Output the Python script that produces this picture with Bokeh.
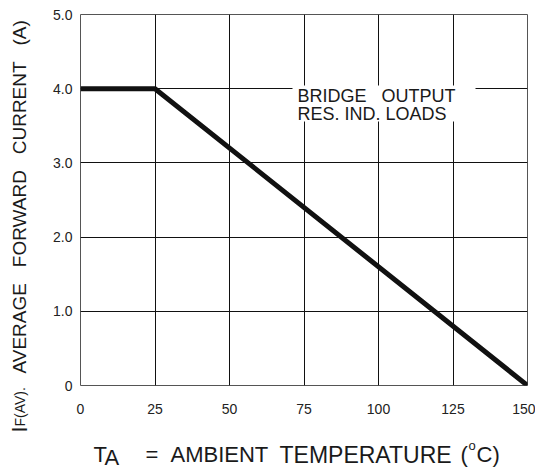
from bokeh.plotting import figure
from bokeh.layouts import row, column
from bokeh.models import Range1d, FixedTicker, Label, BoxAnnotation
from bokeh.embed import file_html
from bokeh.resources import INLINE
import math

# data
temps = [0, 25, 150]
current = [4.0, 4.0, 0.0]
x_ticks = [0, 25, 50, 75, 100, 125, 150]
y_ticks = [0, 1, 2, 3, 4, 5]
y_tick_labels = {0: "0", 1: "1.0", 2: "2.0", 3: "3.0", 4: "4.0", 5: "5.0"}

FONT = "Liberation Sans"
NB = "\u00a0"
TXT = "#1a1a1a"

YW = 40      # width of the y-title strip
PH = 420     # main figure height
XH = 50      # x-title strip height

p = figure(width=495, height=PH, output_backend="svg", toolbar_location=None,
           x_range=Range1d(0, 150), y_range=Range1d(0, 5),
           min_border_left=40, min_border_right=8, min_border_top=14, min_border_bottom=35)
p.background_fill_color = "white"
p.border_fill_color = "white"
p.outline_line_color = "#555555"
p.outline_line_width = 1

for ax in (p.xaxis[0], p.yaxis[0]):
    ax.axis_line_color = None
    ax.major_tick_line_color = None
    ax.minor_tick_line_color = None
    ax.major_tick_out = 0
    ax.major_tick_in = 0
    ax.minor_tick_out = 0
    ax.major_label_text_font = FONT
    ax.major_label_text_font_size = "14px"
    ax.major_label_text_color = "#222222"

p.xaxis.ticker = FixedTicker(ticks=x_ticks)
p.yaxis.ticker = FixedTicker(ticks=y_ticks)
p.yaxis.major_label_overrides = y_tick_labels
p.xaxis.major_label_standoff = 18
p.yaxis.major_label_standoff = 8

p.xgrid.ticker = FixedTicker(ticks=x_ticks)
p.ygrid.ticker = FixedTicker(ticks=y_ticks)
for g in (p.xgrid[0], p.ygrid[0]):
    g.grid_line_color = "#111111"
    g.grid_line_width = 1
    g.grid_line_alpha = 1.0

p.line(temps, current, line_width=5, line_color="#111111", line_join="miter")


def lab(fig, text, x, y, size, angle=0.0):
    l = Label(x=x, y=y, x_units="canvas", y_units="canvas", text=text,
              text_font=FONT, text_font_size=size, text_color=TXT,
              text_align="left", text_baseline="alphabetic", angle=angle)
    fig.add_layout(l)
    return l


# white box behind the in-plot note (canvas pixels of p)
box = BoxAnnotation(left=292 - YW, right=475 - YW, top=85, bottom=121,
                    left_units="canvas", right_units="canvas",
                    bottom_units="canvas", top_units="canvas",
                    fill_color="white", fill_alpha=1.0, line_color=None)
p.add_layout(box)
lab(p, "BRIDGE" + NB * 3 + "OUTPUT", 297 - YW, 95, "18px")
lab(p, "RES. IND. LOADS", 297 - YW, 113, "18px")


def strip(w, h):
    f = figure(width=w, height=h, output_backend="svg", toolbar_location=None,
               x_range=Range1d(0, 1), y_range=Range1d(0, 1),
               x_axis_type=None, y_axis_type=None,
               min_border_left=0, min_border_right=0, min_border_top=0, min_border_bottom=0)
    f.outline_line_color = None
    f.xgrid.visible = False
    f.ygrid.visible = False
    f.background_fill_color = "white"
    f.border_fill_color = "white"
    return f


# x-axis title strip
xf = strip(495, XH)
oy = PH + 8
lab(xf, "T", 93 - YW, 462 - oy, "22px")
lab(xf, "A", 104 - YW, 465 - oy, "22px")
lab(xf, "=", 145 - YW, 462 - oy, "22px")
lab(xf, "AMBIENT", 170 - YW, 462 - oy, "22px")
lab(xf, "TEMPERATURE", 279 - YW, 462 - oy, "23px")
lab(xf, "(", 460 - YW, 462 - oy, "22px")
lab(xf, "o", 468 - YW, 453 - oy, "13px")
lab(xf, "C)", 476 - YW, 462 - oy, "22px")

# y-axis title strip (rotated text)
yf = strip(YW, PH + XH)
bx = 27 - 8
lab(yf, "I", bx, 432, "22px", angle=math.pi / 2)
lab(yf, "F(AV).", bx, 426, "14px", angle=math.pi / 2)
gap = NB * 3
lab(yf, "AVERAGE" + gap + "FORWARD" + gap + "CURRENT" + gap + "(A)", bx, 373, "19px",
    angle=math.pi / 2)

layout = row(yf, column(p, xf))

open("out.html", "w").write(file_html(layout, INLINE))
